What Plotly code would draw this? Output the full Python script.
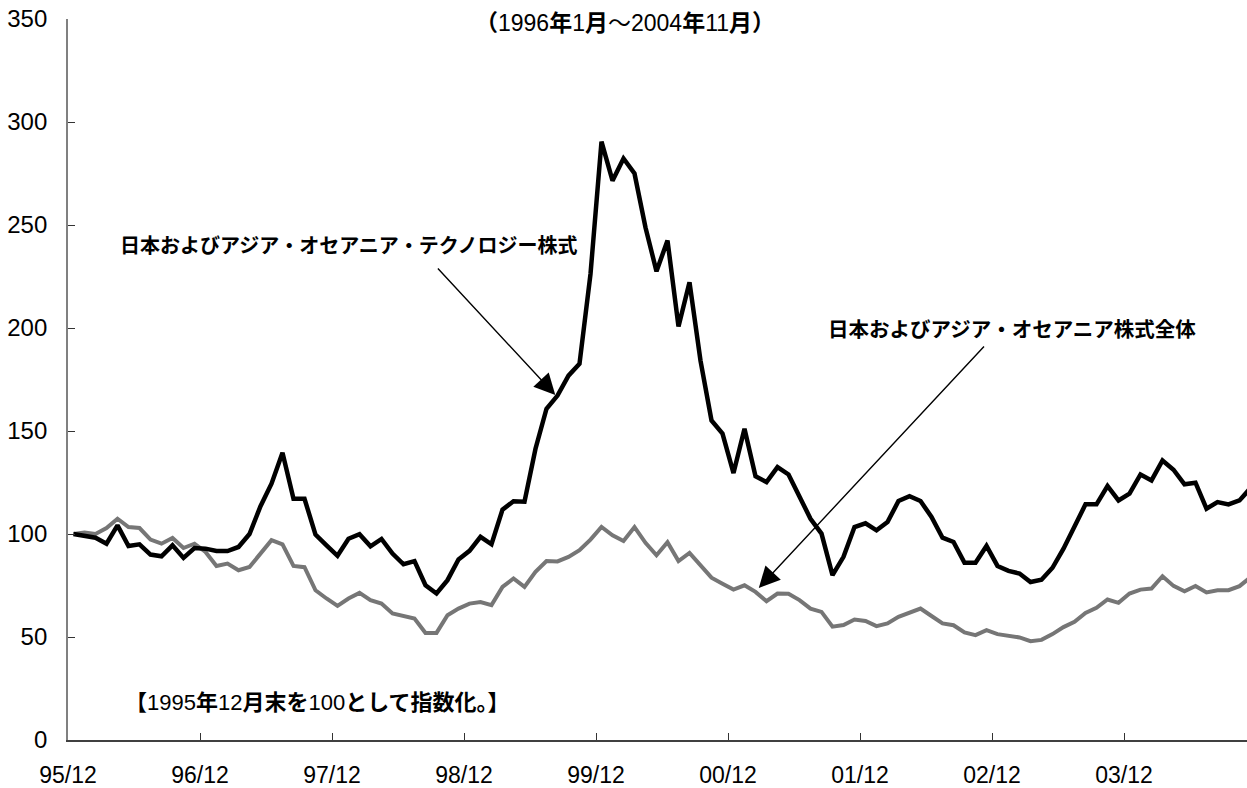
import plotly.graph_objects as go

# Index, end of 1995/12 = 100 (monthly, 95/12 .. 04/11)
tech = [100.0, 98.9, 98.2, 95.3, 104.2, 94.2, 95.0, 90.0, 89.2, 94.5,
        88.4, 93.2, 92.9, 91.8, 91.7, 93.7, 100.0, 113.5, 124.4, 139.4,
        117.1, 117.1, 99.7, 94.5, 89.4, 97.7, 99.9, 94.0, 97.6, 90.5,
        85.3, 86.8, 75.1, 71.1, 77.6, 87.6, 91.8, 98.6, 95.0, 111.8,
        115.9, 115.7, 141.4, 160.8, 167.2, 176.9, 182.6, 226.2, 290.5, 271.5,
        282.3, 275.0, 248.8, 227.5, 242.5, 200.7, 222.2, 184.2, 155.1, 148.7,
        129.6, 151.1, 128.0, 125.2, 132.5, 128.9, 117.9, 107.4, 100.2, 80.0,
        88.9, 103.4, 105.2, 101.8, 105.8, 116.0, 118.3, 116.0, 108.3, 98.2,
        96.1, 86.0, 86.0, 94.2, 84.5, 82.1, 80.8, 76.7, 77.8, 83.6,
        92.9, 103.7, 114.4, 114.4, 123.3, 116.3, 119.6, 128.9, 126.0, 135.7,
        131.2, 124.1, 124.9, 112.3, 115.5, 114.4, 116.3, 122.3]

overall = [100.0, 100.7, 100.0, 102.9, 107.4, 103.4, 102.9, 97.3, 95.3, 98.1,
           93.2, 95.3, 91.3, 84.5, 85.6, 82.4, 84.0, 90.5, 97.0, 95.0,
           84.5, 83.9, 72.7, 68.7, 65.1, 68.7, 71.4, 67.9, 66.2, 61.4,
           60.3, 59.0, 52.0, 52.0, 60.6, 63.8, 66.2, 67.0, 65.5, 74.3,
           78.4, 74.3, 81.6, 86.9, 86.7, 88.9, 92.1, 97.3, 103.4, 99.4,
           96.6, 103.4, 95.7, 89.7, 96.0, 86.9, 90.8, 84.8, 78.8, 75.9,
           73.0, 75.1, 71.9, 67.4, 71.1, 71.0, 67.9, 63.8, 62.2, 55.0,
           55.8, 58.5, 57.8, 55.3, 56.6, 59.8, 61.9, 63.8, 60.2, 56.6,
           55.7, 52.2, 50.9, 53.3, 51.4, 50.4, 49.8, 48.0, 48.6, 51.4,
           54.8, 57.4, 61.7, 64.2, 68.2, 66.6, 71.1, 73.0, 73.5, 79.5,
           74.8, 72.2, 74.8, 71.6, 72.7, 72.7, 74.7, 79.0]

x_tick_labels = ["95/12", "96/12", "97/12", "98/12", "99/12",
                 "00/12", "01/12", "02/12", "03/12"]
y_tick_vals = [0, 50, 100, 150, 200, 250, 300, 350]

months = list(range(len(tech)))
x_tick_vals = [12 * k - 0.5 for k in range(len(x_tick_labels))]

W, H = 1247, 788
L, R, T, B = 68, 0, 19, 48
px_per_month = 11.0
x_max = -0.5 + (W - L - R) / px_per_month

FONT = "Liberation Sans, Arial, Noto Sans CJK JP, sans-serif"

fig = go.Figure()
fig.add_trace(go.Scatter(x=months, y=overall, mode="lines",
                         line=dict(color="#767676", width=4),
                         name="日本およびアジア・オセアニア株式全体"))
fig.add_trace(go.Scatter(x=months, y=tech, mode="lines",
                         line=dict(color="#000000", width=4.5),
                         name="日本およびアジア・オセアニア・テクノロジー株式"))

annotations = [
    dict(text="<b>（</b>1996<b>年</b>1<b>月</b>～2004<b>年</b>11<b>月）</b>",
         xref="paper", yref="paper", x=0.4724, y=0.9945,
         xanchor="center", yanchor="middle", showarrow=False,
         font=dict(size=23, color="black", family=FONT)),
    dict(text="<b>日本およびアジア・オセアニア・テクノロジー株式</b>",
         xref="paper", yref="paper", x=0.2383, y=0.6852,
         xanchor="center", yanchor="middle", showarrow=False,
         font=dict(size=20, color="black", family=FONT)),
    dict(text="<b>日本およびアジア・オセアニア株式全体</b>",
         xref="paper", yref="paper", x=0.8003, y=0.570,
         xanchor="center", yanchor="middle", showarrow=False,
         font=dict(size=20.5, color="black", family=FONT)),
    dict(text="<b>【</b>1995<b>年</b>12<b>月末を</b>100<b>として指数化。】</b>",
         xref="paper", yref="paper", x=0.212, y=0.0527,
         xanchor="center", yanchor="middle", showarrow=False,
         font=dict(size=22, color="black", family=FONT)),
    # arrows
    dict(text="", x=43.8, y=167.5, xref="x", yref="y",
         ax=33.0, ay=229.6, axref="x", ayref="y",
         showarrow=True, arrowhead=2, arrowsize=3.0, arrowwidth=1.4,
         arrowcolor="black", standoff=0, startstandoff=0),
    dict(text="", x=62.3, y=73.8, xref="x", yref="y",
         ax=82.9, ay=191.7, axref="x", ayref="y",
         showarrow=True, arrowhead=2, arrowsize=3.0, arrowwidth=1.4,
         arrowcolor="black", standoff=0, startstandoff=0),
]

fig.update_layout(
    width=W, height=H,
    margin=dict(l=L, r=R, t=T, b=B, pad=0, autoexpand=False),
    paper_bgcolor="white", plot_bgcolor="white",
    showlegend=False,
    annotations=annotations,
    font=dict(family=FONT, size=23, color="black"),
)
fig.update_xaxes(range=[-0.5, x_max], tickmode="array",
                 tickvals=x_tick_vals, ticktext=x_tick_labels,
                 showgrid=False, zeroline=False, automargin=False,
                 showline=True, linecolor="#404040", linewidth=1.5,
                 ticks="inside", ticklen=7, tickwidth=1.2, tickcolor="#333333",
                 tickfont=dict(size=23, family=FONT, color="black"),
                 ticklabelstandoff=14)
fig.update_yaxes(range=[0, 350], tickmode="array", tickvals=y_tick_vals,
                 showgrid=False, zeroline=False, automargin=False,
                 showline=True, linecolor="#808080", linewidth=1.8,
                 ticks="inside", ticklen=7, tickwidth=1.2, tickcolor="#333333",
                 tickfont=dict(size=24, family=FONT, color="black"),
                 ticklabelstandoff=14)

fig.write_html(
    "out.html",
    config={"displayModeBar": False},
    post_script="document.body.style.margin='0';"
                "document.body.style.overflow='hidden';",
)
